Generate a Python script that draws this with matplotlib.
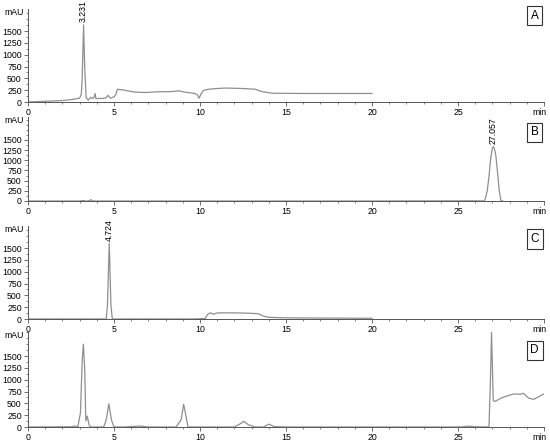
import matplotlib
matplotlib.use("Agg")
import matplotlib.pyplot as plt
from matplotlib.ticker import MultipleLocator

plt.rcParams['font.family'] = ['Liberation Sans', 'DejaVu Sans']

# ---------------- data ----------------
tA = [0, 1, 2, 2.6, 3.0, 3.1, 3.15, 3.231, 3.3, 3.38, 3.5, 3.65, 3.75, 3.85, 3.9, 3.95, 4.1, 4.4, 4.55,
      4.65, 4.8, 5.0, 5.1, 5.2, 5.6, 6.2, 6.8, 7.5, 8.3, 8.8, 9.0, 9.3, 9.7, 9.85, 9.95, 10.05, 10.2,
      10.5, 11.0, 11.5, 12.5, 13.2, 13.6, 14.2, 16, 18, 20]
yA = [0, 15, 30, 55, 80, 160, 500, 1630, 700, 90, 40, 100, 70, 110, 180, 70, 75, 75, 90,
      140, 80, 110, 150, 270, 250, 210, 200, 215, 220, 235, 215, 200, 180, 150, 80, 160, 245,
      270, 285, 295, 285, 270, 220, 185, 180, 180, 180]

tB = [0, 3.0, 3.2, 3.35, 3.5, 3.65, 3.8, 10, 20, 26.0, 26.55, 26.7, 26.8, 26.9, 27.0, 27.057,
      27.12, 27.2, 27.3, 27.4, 27.5, 27.6]
yB = [0, 0, 12, 0, 0, 30, 0, 0, 0, 5, 0, 250, 600, 1050, 1300, 1340, 1280, 1120, 700, 250, 0, 0]

tC = [0, 4.55, 4.62, 4.724, 4.82, 4.9, 9.5, 10.3, 10.45, 10.6, 10.8, 10.95, 11.2, 12.0, 13.0, 13.4,
      13.7, 14.0, 15.0, 17.0, 20.0]
yC = [0, 0, 300, 1600, 300, 0, 0, 10, 100, 130, 100, 125, 130, 130, 120, 110, 60, 35, 25, 20, 15]

tD = [0, 2.5, 2.7, 2.9, 3.05, 3.15, 3.22, 3.3, 3.36, 3.45, 3.55, 3.65, 4.4, 4.55, 4.7, 4.85, 5.0,
      5.6, 6.5, 7.0, 8.6, 8.9, 9.05, 9.15, 9.3, 9.6, 12.0, 12.3, 12.55, 12.8, 13.2, 13.7, 14.0, 14.3,
      15.0, 25.0, 25.3, 25.6, 26.0, 26.8, 26.88, 26.95, 27.05, 27.15, 27.5, 28.0, 28.3, 28.6,
      28.8, 29.1, 29.4, 30.0]
yD = [0, 5, 20, 10, 300, 1400, 1750, 1200, 130, 230, 40, 0, 0, 150, 490, 150, 0,
      0, 20, 0, 0, 150, 480, 300, 0, 0, 0, 60, 120, 50, 0, 0, 60, 10,
      0, 0, 5, 20, 5, 0, 900, 2000, 560, 540, 610, 675, 700, 690,
      712, 612, 585, 700]

panels = ['A', 'B', 'C', 'D']
peak_labels = {'A': (3.231, 1630, '3.231'), 'B': (27.057, 1340, '27.057'),
               'C': (4.724, 1600, '4.724')}
series = {'A': (tA, yA), 'B': (tB, yB), 'C': (tC, yC), 'D': (tD, yD)}
y_tops = {'A': 1965, 'B': 2065, 'C': 1966, 'D': 2008}
x_ticks = [0, 5, 10, 15, 20, 25, 30]
x_labels = ['0', '5', '10', '15', '20', '25', '']
unit_label = 'min'
y_ticks = [0, 250, 500, 750, 1000, 1250, 1500]

# ---------------- layout (pixel geometry) ----------------
W, H = 550, 444
fig = plt.figure(figsize=(W / 100, H / 100), dpi=100)
geom = {'A': (9, 102), 'B': (117, 201), 'C': (226, 319), 'D': (332, 427)}
box_y = {'A': 0.93, 'B': 0.82, 'C': 0.86, 'D': 0.81}
x0, x1 = 28, 544
line_color = '#8f8f8f'

for p in panels:
    top, bot = geom[p]
    ax = fig.add_axes([x0 / W, 1 - bot / H, (x1 - x0) / W, (bot - top) / H])
    t, y = series[p]
    ax.plot(t, y, color=line_color, lw=0.9, clip_on=True)
    ax.set_xlim(0, 30)
    ax.set_ylim(0, y_tops[p])
    for s in ['top', 'right']:
        ax.spines[s].set_visible(False)
    for s in ['left', 'bottom']:
        ax.spines[s].set_color('#555555')
        ax.spines[s].set_linewidth(0.7)
    ax.set_xticks(x_ticks)
    ax.set_xticklabels(x_labels)
    ax.set_yticks(y_ticks)
    ax.set_yticklabels([str(v) for v in y_ticks])
    ax.xaxis.set_minor_locator(MultipleLocator(1))
    ax.yaxis.set_minor_locator(MultipleLocator(125))
    ax.tick_params(axis='both', which='major', length=3, width=0.6, color='#555555',
                   labelsize=6.3, pad=1.5)
    ax.tick_params(axis='both', which='minor', length=1.5, width=0.5, color='#555555')
    ax.annotate(unit_label, xy=(30, 0), xytext=(-3, -4.5), textcoords='offset points',
                ha='center', va='top', fontsize=6.3, annotation_clip=False)
    ax.annotate('mAU', xy=(0, y_tops[p] * 0.96), xytext=(-3, 0), textcoords='offset points',
                ha='right', va='center', fontsize=6.3)
    ax.text(0.982, box_y[p], p, transform=ax.transAxes, ha='center', va='center', fontsize=8.5,
            bbox=dict(boxstyle='square,pad=0.3', fc='white', ec='#333333', lw=0.8))
    if p in peak_labels:
        px, py, lab = peak_labels[p]
        ax.annotate(lab, (px, py), xytext=(0, 2), textcoords='offset points', rotation=90,
                    ha='center', va='bottom', fontsize=6.3)
    ax.patch.set_alpha(0)

fig.savefig('out.png', dpi=100)
